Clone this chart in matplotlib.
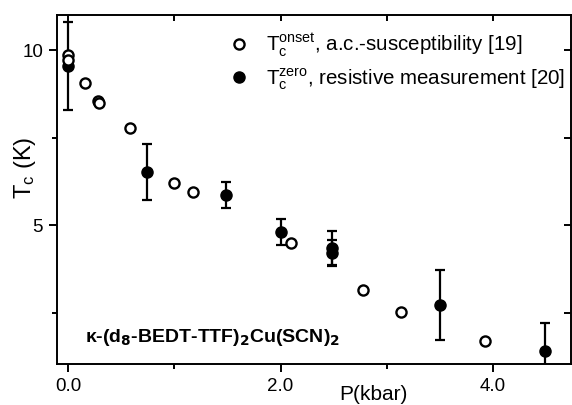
import matplotlib
matplotlib.use("Agg")
import matplotlib.pyplot as plt
from matplotlib.ticker import MultipleLocator
from matplotlib.lines import Line2D

plt.rcParams['font.family'] = ['Liberation Sans', 'DejaVu Sans']
plt.rcParams['mathtext.default'] = 'regular'

# open circles: T_c onset, a.c.-susceptibility
onset_p = [0.0, 0.0, 0.16, 0.28, 0.29, 0.58, 1.0, 1.18, 2.10, 2.78, 3.13, 3.92]
onset_t = [9.87, 9.71, 9.05, 8.53, 8.48, 7.76, 6.21, 5.95, 4.48, 3.14, 2.52, 1.69]

# filled circles: T_c zero, resistive measurement
zero_p = [0.0, 0.74, 1.49, 2.0, 2.48, 2.48, 3.5, 4.49]
zero_t = [9.55, 6.51, 5.86, 4.81, 4.34, 4.20, 2.71, 1.41]
zero_err = [1.25, 0.80, 0.37, 0.37, 0.49, 0.38, 1.00, 0.80]

fig = plt.figure(figsize=(5.72, 4.05), dpi=100)
W, H = 572, 405
left, right, top, bottom = 57, 571, 15, 364
ax = fig.add_axes([left / W, 1 - bottom / H, (right - left) / W, (bottom - top) / H])

ax.errorbar(zero_p, zero_t, yerr=zero_err, fmt='o', color='black', ms=8,
            elinewidth=1.6, capsize=3.3, capthick=1.6, zorder=3)
ax.plot(onset_p, onset_t, 'o', mfc='white', mec='black', mew=1.7, ms=7.3, zorder=4)

ax.set_xlim(-0.104, 4.734)
ax.set_ylim(1.03, 11.0)

ax.set_xticks([0, 2, 4])
ax.set_xticklabels(['0.0', '2.0', '4.0'])
ax.set_yticks([5, 10])
ax.set_yticklabels(['5', '10'])
ax.xaxis.set_minor_locator(MultipleLocator(1.0))
ax.yaxis.set_minor_locator(MultipleLocator(2.5))

for s in ax.spines.values():
    s.set_linewidth(1.4)

ax.tick_params(which='both', direction='out', labelsize=13.5, width=1.4, pad=4)
ax.tick_params(which='major', length=6)
ax.tick_params(which='minor', length=3.5)

# top and right inward ticks
secx = ax.secondary_xaxis('top')
secx.set_xticks([0, 1, 2, 3, 4])
secx.tick_params(direction='in', length=4.5, width=1.4, labeltop=False)
secx.spines['top'].set_visible(False)
secy = ax.secondary_yaxis('right')
secy.set_yticks([2.5, 5, 7.5, 10])
secy.tick_params(direction='in', length=5, width=1.4, labelright=False)
secy.spines['right'].set_visible(False)

ax.set_xlabel('P(kbar)', fontsize=15)
ax.xaxis.set_label_coords((373 - left) / (right - left), -(395 - bottom) / (bottom - top), transform=ax.transAxes)
ax.xaxis.label.set_va('center')
ax.set_ylabel(r'T$_{c}$ (K)', fontsize=17)
ax.yaxis.set_label_coords(-(left - 25) / (right - left), (bottom - 168) / (bottom - top), transform=ax.transAxes)
ax.yaxis.label.set_va('center')

h_on = Line2D([], [], ls='none', marker='o', mfc='white', mec='black', mew=1.7, ms=7.3)
h_ze = Line2D([], [], ls='none', marker='o', color='black', ms=8)
leg = ax.legend([h_on, h_ze],
                [r'T$_{c}^{onset}$, a.c.-susceptibility [19]',
                 r'T$_{c}^{zero}$, resistive measurement [20]'],
                frameon=False, fontsize=14.8,
                loc='upper left', bbox_to_anchor=((217 - left) / (right - left), 1.0 - 5 / (bottom - top)),
                handletextpad=0.85, labelspacing=0.4, handlelength=1.0,
                borderaxespad=0.25, borderpad=0.3)

ax.text((85 - left) / (right - left), (bottom - 338) / (bottom - top),
        r'κ-(d$_{\mathbf{8}}$-BEDT-TTF)$_{\mathbf{2}}$Cu(SCN)$_{\mathbf{2}}$',
        transform=ax.transAxes, fontsize=14, fontweight='bold', va='center', ha='left')

fig.savefig('out.png', dpi=100)
